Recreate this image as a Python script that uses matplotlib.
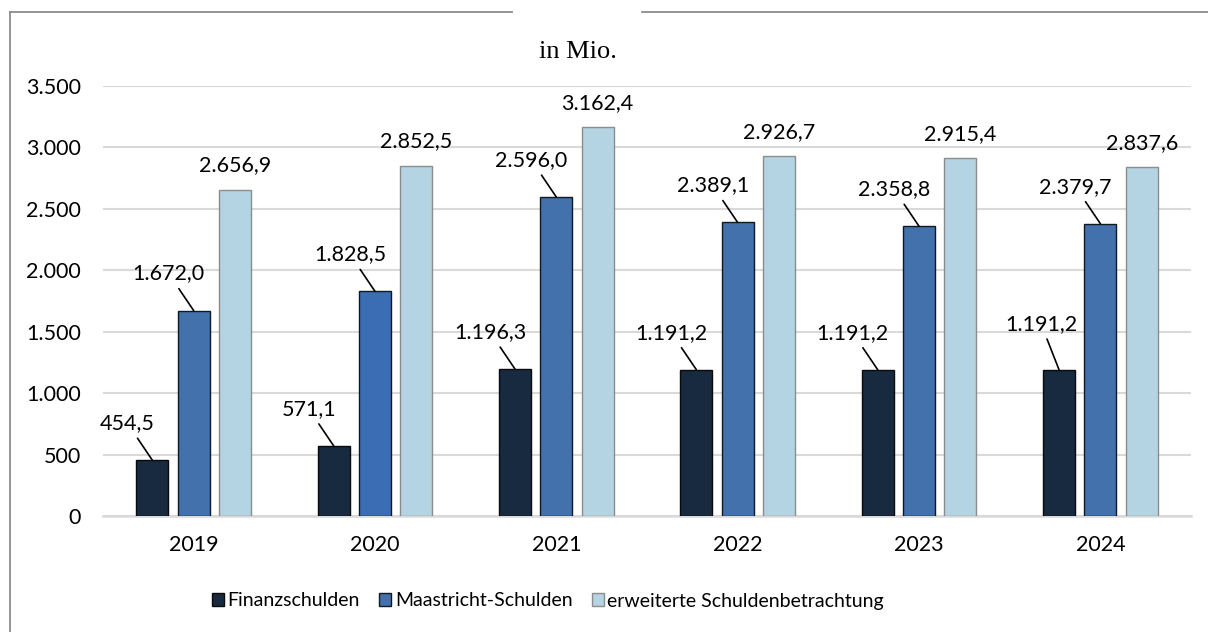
import numpy as np
import matplotlib.pyplot as plt
from matplotlib.lines import Line2D

# data (Mio.)
years = ['2019', '2020', '2021', '2022', '2023', '2024']
finanzschulden = [454.5, 571.1, 1196.3, 1191.2, 1191.2, 1191.2]
maastricht = [1672.0, 1828.5, 2596.0, 2389.1, 2358.8, 2379.7]
erweitert = [2656.9, 2852.5, 3162.4, 2926.7, 2915.4, 2837.6]
series_names = ['Finanzschulden', 'Maastricht-Schulden', 'erweiterte Schuldenbetrachtung']
yticks = [0, 500, 1000, 1500, 2000, 2500, 3000, 3500]

c_dark = '#172a40'
c_mid = '#4271ab'
c_light = '#b4d4e3'

def fmt(v, dec=1):
    s = '{:,.{}f}'.format(v, dec)
    return s.replace(',', 'X').replace('.', ',').replace('X', '.')

plt.rcParams['font.family'] = ['Lato', 'DejaVu Sans']

fig = plt.figure(figsize=(12.08, 6.32), dpi=100)
W, H = 1208, 632
ax = fig.add_axes([103 / W, 1 - 516 / H, (1191 - 103) / W, (516 - 86) / H])

x = np.arange(len(years))
bw = 0.178
off = 0.228

mid_colors = [c_mid] * len(years)
mid_colors[1] = '#3b6db5'

b1 = ax.bar(x - off, finanzschulden, bw, color=c_dark, edgecolor='#0a0a0a', linewidth=1.0,
            label=series_names[0], zorder=3)
b2 = ax.bar(x, maastricht, bw, color=mid_colors, edgecolor='#101820', linewidth=1.0,
            label=series_names[1], zorder=3)
b3 = ax.bar(x + off, erweitert, bw, color=c_light, edgecolor='#8c8c8c', linewidth=1.0,
            label=series_names[2], zorder=3)

fs = 15.5
px = 72 / 100  # pixel -> points

# labels with leader lines for first two series
for bars, vals in [(b1, finanzschulden), (b2, maastricht)]:
    for i, (r, v) in enumerate(zip(bars, vals)):
        dx, dy = -25, 37
        if bars is b1 and i == 5:
            dx, dy = -18, 46
        ax.annotate(fmt(v), xy=(r.get_x() + r.get_width() / 2, v),
                    xytext=(dx * px, dy * px), textcoords='offset points',
                    ha='center', va='center', fontsize=fs, zorder=5,
                    arrowprops=dict(arrowstyle='-', color='black', lw=1.2,
                                    shrinkA=2, shrinkB=0))

for r, v in zip(b3, erweitert):
    ax.annotate(fmt(v), xy=(r.get_x() + r.get_width() / 2, v),
                xytext=(0, 24 * px), textcoords='offset points',
                ha='center', va='center', fontsize=fs, zorder=5)

ax.set_xlim(-0.5, len(years) - 0.5)
ax.set_ylim(0, 3500)
ax.set_yticks(yticks)
ax.set_yticklabels([fmt(t, 0) for t in yticks], fontsize=fs)
ax.set_xticks(x)
ax.set_xticklabels(years, fontsize=fs)
ax.tick_params(axis='y', length=0, pad=16)
ax.tick_params(axis='x', length=0, pad=14)
ax.grid(axis='y', color='#d9d9d9', linewidth=1.5, zorder=0)
ax.set_axisbelow(True)
for s in ['top', 'right', 'left']:
    ax.spines[s].set_visible(False)
ax.spines['bottom'].set_color('#d9d9d9')
ax.spines['bottom'].set_linewidth(1.8)

fig.text(578 / W, 1 - 52 / H, 'in Mio.', family='Liberation Serif', fontsize=19,
         ha='center', va='center')

leg = fig.legend(handles=[b1, b2, b3], labels=series_names, loc='center',
                 bbox_to_anchor=(548 / W, 1 - 601 / H), ncol=3, frameon=False,
                 fontsize=14, handlelength=0.6, handleheight=0.6, handletextpad=0.2,
                 columnspacing=1.0)

# outer frame with gap for the title
col = '#8c8c8c'
fig.add_artist(Line2D([10 / W, 10 / W], [0, 1 - 12 / H], color=col, lw=1.3))
fig.add_artist(Line2D([10 / W, 512 / W], [1 - 12 / H, 1 - 12 / H], color=col, lw=1.3))
fig.add_artist(Line2D([642 / W, 1], [1 - 12 / H, 1 - 12 / H], color=col, lw=1.3))

fig.savefig('out.png', dpi=100)
